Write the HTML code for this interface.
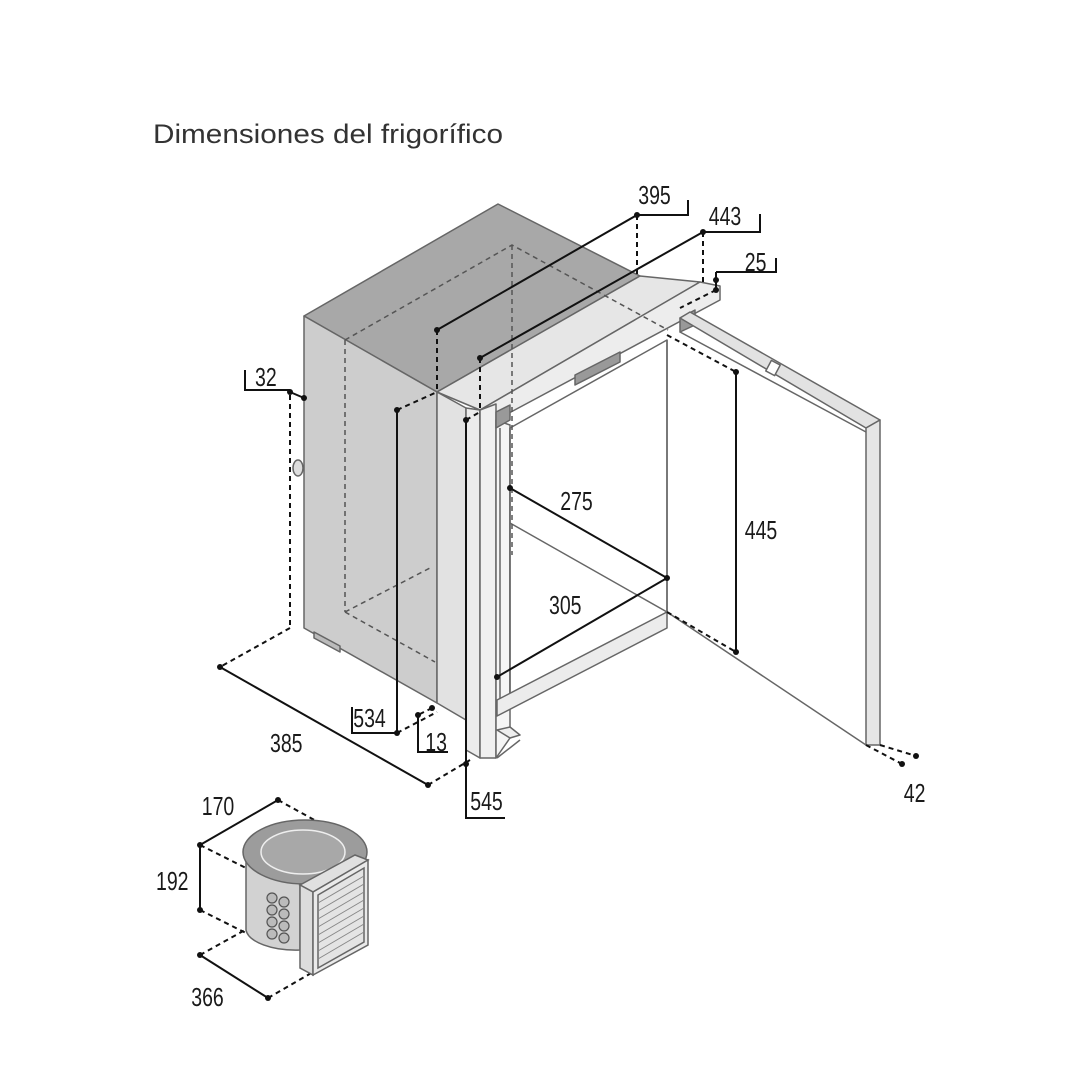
<!DOCTYPE html>
<html><head><meta charset="utf-8"><style>
html,body{margin:0;padding:0;background:#fff;}
svg{display:block}
.t{font-family:"Liberation Sans",sans-serif;font-size:26px;fill:#1a1a1a;}
</style></head><body>
<svg width="1080" height="1080" viewBox="0 0 1080 1080" xmlns="http://www.w3.org/2000/svg">
<text x="153" y="143" textLength="350" lengthAdjust="spacingAndGlyphs" style="font-family:'Liberation Sans',sans-serif;font-size:27px;fill:#333;">Dimensiones del frigorífico</text>

<g stroke="#666" stroke-width="1.5" stroke-linejoin="round">
<!-- top face -->
<polygon points="304,316 498,204 640,276 437,392" fill="#a8a8a8"/>
<!-- left side -->
<polygon points="304,316 437,392 437,703 304,628" fill="#cdcdcd"/>
<polygon points="314,632 340,646 340,652 314,638" fill="#bbb"/>
<!-- front column -->
<polygon points="437,392 466,408 466,720 437,703" fill="#e2e2e2"/>
<polygon points="466,408 480,410 480,758 466,750" fill="#ececec"/>
<!-- top frame strip -->
<polygon points="437,392 640,276 700,282 480,410" fill="#e6e6e6"/>
<polygon points="480,410 700,282 720,286 720,300 496,420 480,420" fill="#ededed"/>
<polygon points="480,410 496,404 496,758 480,758" fill="#f0f0f0"/>
<polygon points="496,420 496,758 510,738 510,425" fill="#f5f5f5"/>
<polygon points="496,412 510,405 510,420 496,428" fill="#999"/>
<polygon points="575,375 620,352 620,362 575,385" fill="#999"/>
<polygon points="680,318 695,310 695,325 680,332" fill="#999"/>
<!-- opening -->
<polygon points="510,428 667,340 667,612 510,700" fill="#fff"/>
<line x1="510" y1="428" x2="510" y2="700"/>
<line x1="500" y1="428" x2="500" y2="710"/>
<line x1="667" y1="340" x2="667" y2="612"/>
<line x1="510" y1="523" x2="667" y2="612"/>
<polygon points="497,700 667,612 667,628 497,716" fill="#ececec"/>
<polygon points="497,730 510,738 520,735 510,727" fill="#eee"/>
<line x1="497" y1="758" x2="520" y2="740"/>
<!-- door -->
<polygon points="680,318 690,312 880,420 866,428" fill="#e2e2e2"/>
<polygon points="866,428 880,420 880,745 866,745" fill="#e6e6e6"/>
<line x1="667" y1="612" x2="866" y2="745"/>
<line x1="680" y1="332" x2="866" y2="432"/>
<rect x="768" y="362" width="10" height="12" fill="#fff" transform="rotate(28 773 368)"/>
<ellipse cx="298" cy="468" rx="5" ry="8" fill="#ddd"/>
</g>

<g stroke="#555" stroke-width="1.5" stroke-dasharray="5,4" fill="none">
<polyline points="345,340 512,245 668,330"/>
<line x1="512" y1="245" x2="512" y2="555"/>
<line x1="345" y1="340" x2="345" y2="612"/>
<polyline points="345,612 430,568"/>
<line x1="345" y1="612" x2="435" y2="662"/>
</g>

<g stroke="#111" stroke-width="2" fill="none">
<line x1="437" y1="330" x2="637" y2="215"/>
<polyline points="637,215 688,215 688,200"/>
<line x1="480" y1="358" x2="703" y2="232"/>
<polyline points="703,232 760,232 760,214"/>
<polyline points="716,272 776,272 776,258"/>
<line x1="716" y1="272" x2="716" y2="290"/>
<polyline points="245,370 245,390 290,390"/>
<line x1="290" y1="392" x2="304" y2="398"/>
<polyline points="397,410 397,733 352,733 352,707"/>
<polyline points="466,420 466,818 505,818"/>
<polyline points="418,715 418,752 448,752"/>
<line x1="220" y1="667" x2="428" y2="785"/>
<line x1="510" y1="488" x2="667" y2="578"/>
<line x1="497" y1="677" x2="667" y2="578"/>
<line x1="736" y1="372" x2="736" y2="652"/>
<line x1="200" y1="845" x2="278" y2="800"/>
<line x1="200" y1="845" x2="200" y2="910"/>
<line x1="200" y1="955" x2="268" y2="998"/>
</g>
<g stroke="#111" stroke-width="2" stroke-dasharray="5,4" fill="none">
<line x1="637" y1="215" x2="637" y2="275"/>
<line x1="437" y1="330" x2="437" y2="390"/>
<line x1="480" y1="358" x2="480" y2="410"/>
<line x1="703" y1="232" x2="703" y2="285"/>
<line x1="716" y1="290" x2="680" y2="308"/>
<line x1="290" y1="395" x2="290" y2="628"/>
<line x1="290" y1="628" x2="220" y2="667"/>
<line x1="428" y1="785" x2="470" y2="760"/>
<line x1="397" y1="410" x2="437" y2="392"/>
<line x1="466" y1="420" x2="480" y2="412"/>
<line x1="397" y1="733" x2="437" y2="712"/>
<line x1="432" y1="708" x2="418" y2="715"/>
<line x1="667" y1="335" x2="736" y2="372"/>
<line x1="667" y1="612" x2="736" y2="652"/>
<line x1="866" y1="745" x2="902" y2="764"/>
<line x1="880" y1="745" x2="916" y2="756"/>
<line x1="278" y1="800" x2="360" y2="845"/>
<line x1="200" y1="845" x2="290" y2="890"/>
<line x1="200" y1="910" x2="250" y2="935"/>
<line x1="200" y1="955" x2="245" y2="930"/>
<line x1="268" y1="998" x2="320" y2="968"/>
</g>
<g fill="#111">
<circle cx="437" cy="330" r="3"/><circle cx="637" cy="215" r="3"/>
<circle cx="480" cy="358" r="3"/><circle cx="703" cy="232" r="3"/>
<circle cx="716" cy="280" r="3"/><circle cx="716" cy="290" r="3"/>
<circle cx="290" cy="392" r="3"/><circle cx="304" cy="398" r="3"/>
<circle cx="397" cy="410" r="3"/><circle cx="397" cy="733" r="3"/>
<circle cx="466" cy="420" r="3"/><circle cx="466" cy="764" r="3"/>
<circle cx="418" cy="715" r="3"/><circle cx="432" cy="708" r="3"/>
<circle cx="220" cy="667" r="3"/><circle cx="428" cy="785" r="3"/>
<circle cx="510" cy="488" r="3"/><circle cx="667" cy="578" r="3"/>
<circle cx="497" cy="677" r="3"/>
<circle cx="736" cy="372" r="3"/><circle cx="736" cy="652" r="3"/>
<circle cx="902" cy="764" r="3"/><circle cx="916" cy="756" r="3"/>
<circle cx="200" cy="845" r="3"/><circle cx="278" cy="800" r="3"/>
<circle cx="200" cy="910" r="3"/><circle cx="200" cy="955" r="3"/><circle cx="268" cy="998" r="3"/>
</g>

<g stroke="#666" stroke-width="1.5">
<path d="M246,850 L246,930 A50,22 0 0 0 300,950 L300,870 Z" fill="#d2d2d2"/>
<ellipse cx="305" cy="852" rx="62" ry="32" fill="#9c9c9c"/>
<ellipse cx="303" cy="852" rx="42" ry="22" fill="#a8a8a8" stroke="#eee"/>
<polygon points="300,885 355,855 368,860 313,892" fill="#e0e0e0"/>
<polygon points="300,885 313,892 313,975 300,968" fill="#dcdcdc"/>
<polygon points="313,892 368,860 368,945 313,975" fill="#eaeaea"/>
<polygon points="318,895 364,868 364,942 318,968" fill="#e4e4e4"/>
</g>
<g stroke="#888" stroke-width="1">
<line x1="318" y1="903" x2="364" y2="876"/><line x1="318" y1="911" x2="364" y2="884"/>
<line x1="318" y1="919" x2="364" y2="892"/><line x1="318" y1="927" x2="364" y2="900"/>
<line x1="318" y1="935" x2="364" y2="908"/><line x1="318" y1="943" x2="364" y2="916"/>
<line x1="318" y1="951" x2="364" y2="924"/><line x1="318" y1="959" x2="364" y2="932"/>
</g>
<g fill="#bbb" stroke="#555" stroke-width="1.2">
<circle cx="272" cy="898" r="5"/><circle cx="272" cy="910" r="5"/><circle cx="272" cy="922" r="5"/><circle cx="272" cy="934" r="5"/>
<circle cx="284" cy="902" r="5"/><circle cx="284" cy="914" r="5"/><circle cx="284" cy="926" r="5"/><circle cx="284" cy="938" r="5"/>
</g>

<g class="t" transform="scale(0.75,1)">
<text x="851" y="204">395</text>
<text x="945" y="225">443</text>
<text x="993" y="271">25</text>
<text x="340" y="386">32</text>
<text x="471" y="727">534</text>
<text x="567" y="751">13</text>
<text x="627" y="810">545</text>
<text x="360" y="752">385</text>
<text x="747" y="510">275</text>
<text x="732" y="614">305</text>
<text x="993" y="539">445</text>
<text x="1205" y="802">42</text>
<text x="269" y="815">170</text>
<text x="208" y="890">192</text>
<text x="255" y="1006">366</text>
</g>
</svg>
</body></html>
